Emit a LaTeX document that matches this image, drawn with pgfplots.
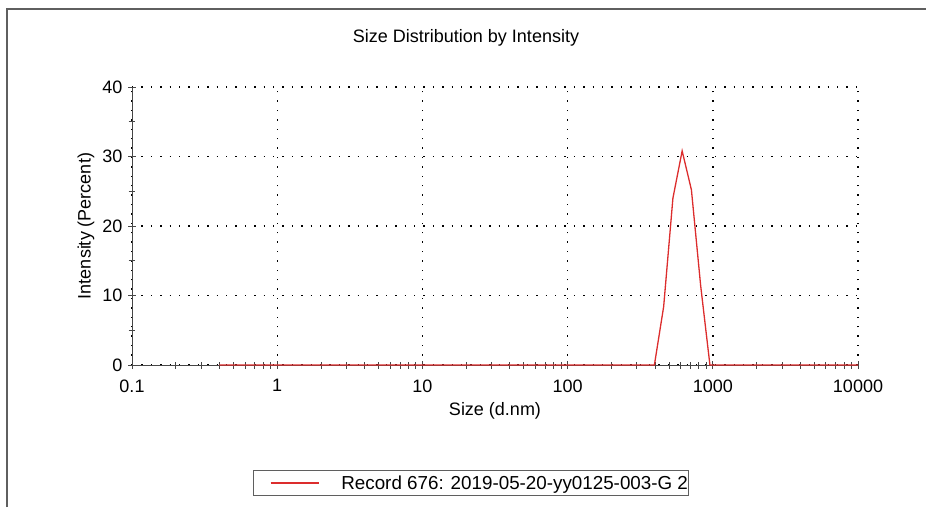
\documentclass[border=0pt]{standalone}
\usepackage{pgfplots}
\pgfplotsset{compat=1.18}
\usepackage{pgfplotstable}
\usepackage{fontspec}
\setmainfont{Liberation Sans}

\definecolor{recred}{RGB}{220,45,45}
\definecolor{framegray}{RGB}{95,95,95}
\definecolor{axgray}{RGB}{70,70,70}

% size bins (d.nm) and intensity (%)
\pgfplotstableread{
size   intensity
0.4    0
0.4632 0
0.5365 0
0.6213 0
0.7195 0
0.8332 0
0.9649 0
1.117  0
1.294  0
1.499  0
1.736  0
2.010  0
2.328  0
2.696  0
3.122  0
3.615  0
4.187  0
4.849  0
5.615  0
6.503  0
7.531  0
8.721  0
10.10  0
11.70  0
13.54  0
15.69  0
18.17  0
21.04  0
24.36  0
28.21  0
32.67  0
37.84  0
43.82  0
50.75  0
58.77  0
68.06  0
78.82  0
91.28  0
105.7  0
122.4  0
141.8  0
164.2  0
190.1  0
220.2  0
255.0  0
295.3  0
342.0  0
396.1  0
458.7  8.4
531.2  24.0
615.1  30.8
712.4  25.2
825.0  11.4
955.4  0
1106   0
1281   0
1484   0
1718   0
1990   0
2305   0
2669   0
3091   0
3580   0
4145   0
4801   0
5560   0
6439   0
7456   0
8635   0
10000  0
}\recorddata

\begin{document}
\begin{tikzpicture}
\begin{axis}[
    at={(132pt,142pt)}, anchor=south west,
    scale only axis,
    width=726pt, height=278pt,
    set layers,
    xmode=log,
    xmin=0.1, xmax=10000,
    ymin=0, ymax=40,
    xtick={0.1,1,10,100,1000,10000},
    xticklabels={0.1,1,10,100,1000,10000},
    ytick={0,10,20,30,40},
    minor y tick num=1,
    axis lines*=left,
    axis line style={axgray, line width=0.9pt},
    tick style={axgray, line width=0.8pt},
    tick align=center,
    major tick length=8pt,
    minor tick length=7pt,
    grid=major,
    major grid style={black, line width=1.4pt, dash pattern=on 1.4pt off 8pt},
    clip=false,
    /pgf/number format/assume math mode=true,
    tick label style={font=\fontsize{18}{21}\selectfont},
    label style={font=\fontsize{18}{21}\selectfont},
    yticklabel style={xshift=-2pt},
    xticklabel style={yshift=-7pt},
    xlabel={Size (d.nm)},
    ylabel={Intensity (Percent)},
    xlabel style={at={(axis description cs:0.5,-0.165)}, anchor=center},
    ylabel style={at={(axis description cs:-0.0634,0.5)}, anchor=center},
    legend style={
        at={(axis description cs:0.4663,-0.4245)}, anchor=center,
        draw=framegray, line width=0.9pt,
        inner xsep=0pt, inner ysep=5pt,
        font=\fontsize{18.8}{22}\selectfont,
        nodes={inner sep=0pt},
    },
    legend image code/.code={
        \path (-17pt,0pt) (70pt,0pt);
        \draw[draw=recred, line width=1.3pt] (0pt,0pt) -- (48pt,0pt);
    },
]
\addplot[draw=recred, line width=1.3pt] table[x=size, y=intensity] {\recorddata};
\addlegendentry{Record 676: 2019-05-20-yy0125-003-G 2}
\end{axis}
\draw[framegray, line width=1.5pt] (7pt,0pt) -- (7pt,498pt) -- (926pt,498pt);
\node[font=\fontsize{18}{21}\selectfont] at (466pt,469pt) {Size Distribution by Intensity};
\pgfresetboundingbox
\path (0pt,0pt) rectangle (926pt,507pt);
\end{tikzpicture}
\end{document}
